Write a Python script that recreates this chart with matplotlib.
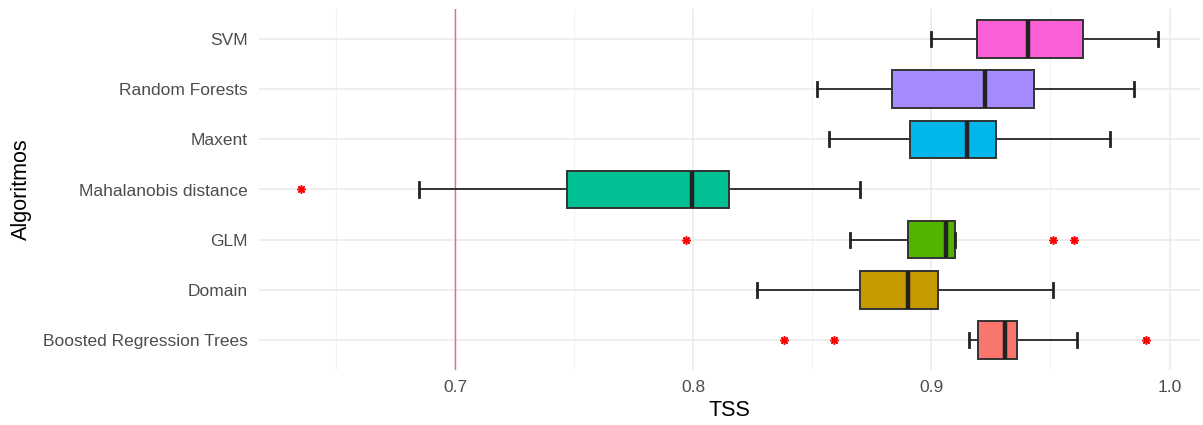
import matplotlib
matplotlib.use("Agg")
import matplotlib.pyplot as plt
from matplotlib.ticker import MultipleLocator

# Algorithms, bottom to top
algorithms = ["Boosted Regression Trees", "Domain", "GLM", "Mahalanobis distance",
              "Maxent", "Random Forests", "SVM"]
colors = ["#F8766D", "#C49A00", "#53B400", "#00C094", "#00B6EB", "#A58AFF", "#FB61D7"]

# Five-number summaries of TSS per algorithm
whisker_low = [0.916, 0.827, 0.866, 0.685, 0.857, 0.852, 0.900]
q1          = [0.9195, 0.870, 0.890, 0.747, 0.891, 0.8835, 0.919]
median      = [0.931, 0.890, 0.906, 0.7995, 0.915, 0.9227, 0.9407]
q3          = [0.936, 0.903, 0.910, 0.815, 0.927, 0.943, 0.9635]
whisker_high = [0.961, 0.951, 0.910, 0.870, 0.975, 0.985, 0.995]
outliers = [[0.838, 0.859, 0.990], [], [0.797, 0.951, 0.960], [0.6355], [], [], []]

threshold = 0.7

stats = []
for i, name in enumerate(algorithms):
    stats.append(dict(label=name, whislo=whisker_low[i], q1=q1[i], med=median[i],
                      q3=q3[i], whishi=whisker_high[i], fliers=outliers[i]))

fig = plt.figure(figsize=(12.03, 4.25), dpi=100)
ax = fig.add_axes([259 / 1203, 1 - 370 / 425, (1200 - 259) / 1203, (370 - 9) / 425])

positions = list(range(1, len(algorithms) + 1))
edge = "#333333"
bp = ax.bxp(stats, positions=positions, vert=False, widths=0.75, patch_artist=True,
            capwidths=0.28, showfliers=True,
            boxprops=dict(edgecolor=edge, linewidth=1.4),
            medianprops=dict(color="#222222", linewidth=3.2),
            whiskerprops=dict(color=edge, linewidth=1.4),
            capprops=dict(color="#222222", linewidth=2.0),
            flierprops=dict(marker=(8, 2, 0), markersize=6, markeredgecolor="#FF0000",
                            markerfacecolor="#FF0000", markeredgewidth=1.1, linestyle="none"),
            zorder=3)
for patch, c in zip(bp["boxes"], colors):
    patch.set_facecolor(c)

ax.axvline(threshold, color="#EE6A72", linewidth=1.0, zorder=2.5)

ax.set_xlim(0.6177, 1.0128)
ax.set_ylim(0.4, 7.6)
ax.set_yticks(positions)
ax.set_yticklabels(algorithms)
ax.xaxis.set_minor_locator(MultipleLocator(0.05))
ax.set_xticks([0.7, 0.8, 0.9, 1.0])
ax.set_xticklabels(["0.7", "0.8", "0.9", "1.0"])

ax.grid(True, which="major", axis="both", color="#EBEBEB", linewidth=1.2, zorder=0)
ax.grid(True, which="minor", axis="x", color="#F2F2F2", linewidth=0.8, zorder=0)
ax.set_axisbelow(True)
for s in ax.spines.values():
    s.set_visible(False)
ax.tick_params(which="both", length=0)
ax.tick_params(axis="y", pad=8, labelsize=12.5, labelcolor="#4D4D4D")
ax.tick_params(axis="x", pad=7, labelsize=12.5, labelcolor="#4D4D4D")
for lab in ax.get_xticklabels() + ax.get_yticklabels():
    lab.set_family("Liberation Sans")

ax.set_xlabel("TSS", fontsize=15.5, family="Liberation Sans", color="black", labelpad=4)
ax.set_ylabel("Algoritmos", fontsize=15.5, family="Liberation Sans", color="black")
ax.yaxis.set_label_coords(-0.241, 0.5)

fig.savefig("out.png", dpi=100, facecolor="white")
